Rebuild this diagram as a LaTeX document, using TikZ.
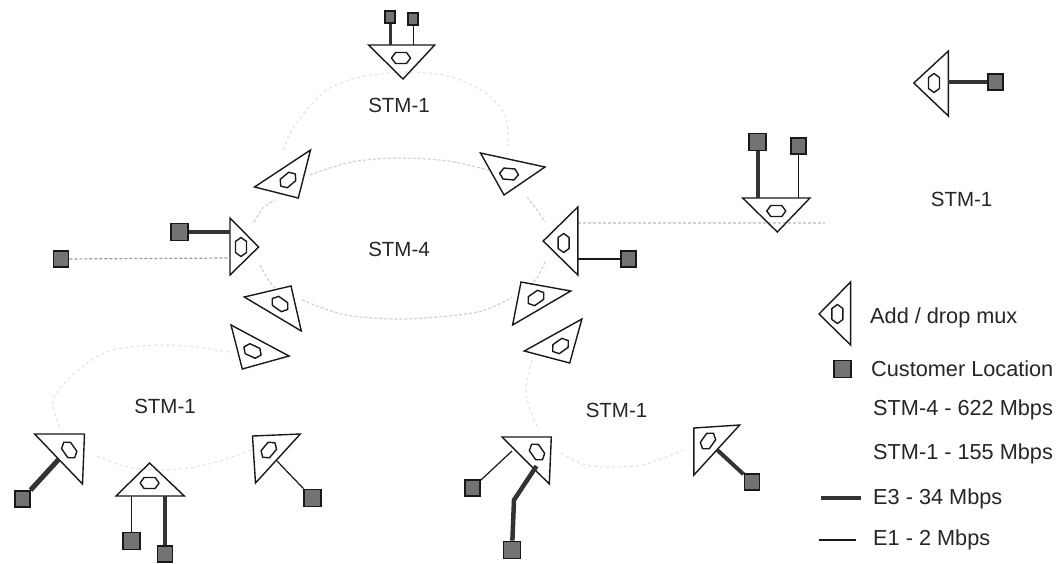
\documentclass[tikz,border=0pt]{standalone}
\usepackage{fontspec}
\setmainfont{Liberation Sans}
\newcommand\admx[6]{%
  \coordinate (#1a) at #2; \coordinate (#1b) at #3; \coordinate (#1c) at #4;
  \draw[admline] (#1a) -- (#1b) -- (#1c) -- cycle;
  \begin{scope}[shift={#5},rotate=#6]
    \draw[hexline] (-9.5,0) -- (-5.5,-5.5) -- (5.5,-5.5) -- (9.5,0) -- (5.5,5.5) -- (-5.5,5.5) -- cycle;
  \end{scope}}
\tikzset{
  x=1pt,y=-1pt,
  admline/.style={draw=black!90,line width=1.4pt,line join=miter},
  hexline/.style={draw=black!90,line width=1.4pt,line join=round},
  cust/.style={draw=black!90,fill=black!55,line width=1.8pt,inner sep=0pt,minimum width=15pt,minimum height=16pt},
  custb/.style={cust,minimum width=17pt,minimum height=17pt},
  custs/.style={cust,minimum width=10pt,minimum height=12pt},
  eiii/.style={draw=black!80,line width=4pt},
  ei/.style={draw=black!90,line width=1.2pt},
  ringa/.style={draw=black!18,line width=1.2pt,dash pattern=on 3pt off 2pt},
  ringb/.style={draw=black!11,line width=1.1pt,dash pattern=on 3pt off 3pt},
  lbl/.style={font=\fontsize{20.5}{22}\selectfont,text=black!85,inner sep=0pt},
  leg/.style={lbl,font=\fontsize{21.7}{24}\selectfont,anchor=west},
}
\begin{document}
\begin{tikzpicture}
\useasboundingbox (0,0) rectangle (1064,563);
\fill[white] (0,0) rectangle (1064,563);
% rings
\draw[ringb] plot[smooth] coordinates {(283,150) (295,125) (324,92) (356,78) (403,72) (448,76) (484,92) (505,115) (508,145)};
\draw[ringa] plot[smooth] coordinates {(310,175) (351,162) (399,158) (448,161) (489,170)};
\draw[ringa] plot[smooth] coordinates {(254,222) (263,208) (275,200)};
\draw[ringa] plot[smooth] coordinates {(527,197) (535,207) (545,222)};
\draw[ringa] plot[smooth] coordinates {(260,265) (267,278) (275,288)};
\draw[ringa] plot[smooth] coordinates {(302,300) (346,315) (407,319) (478,312) (512,297)};
\draw[ringa] plot[smooth] coordinates {(545,262) (537,278) (530,285)};
\draw[ringb] plot[smooth] coordinates {(229,352) (173,345) (112,350) (76,372) (53,400) (61,430)};
\draw[ringb] plot[smooth] coordinates {(97,456) (127,467) (168,470) (209,464) (252,450)};
\draw[ringb] plot[smooth] coordinates {(532,360) (526,395) (539,430)};
\draw[ringb] plot[smooth] coordinates {(561,453) (590,466) (642,465) (683,450)};
\coordinate (spurA) at (578,223); \coordinate (spurB) at (825,223);
\draw[ringa] (spurA) -- (spurB);
% muxes
\admx{ta}{(368.5,45)}{(434.7,45)}{(403,79)}{(401,58)}{0}
\admx{tb}{(310.5,150)}{(254.5,187)}{(298.3,198)}{(288,180)}{40}
\admx{tc}{(480.5,153)}{(504,195)}{(545,167)}{(509,174)}{-5}
\admx{td}{(230,218)}{(230,275)}{(258.6,247)}{(241,247)}{90}
\admx{te}{(577.8,207)}{(577.8,275)}{(543.2,241)}{(563.6,243)}{90}
\admx{tf}{(742.7,198)}{(809.9,198)}{(777.3,232)}{(776.3,211)}{0}
\admx{tg}{(948.4,51)}{(948.4,116)}{(913.8,83)}{(934,83)}{90}
\admx{th}{(244.3,297)}{(291,286)}{(301.3,331)}{(280,304)}{-35}
\admx{ti}{(231,325)}{(289,356)}{(242.3,369)}{(252.5,351)}{-25}
\admx{tj}{(521,282)}{(570.7,291)}{(512.6,325)}{(536,298)}{35}
\admx{tk}{(581.9,319)}{(569.7,363)}{(524.3,351)}{(560.5,346)}{35}
\admx{tl}{(34.6,434)}{(84.5,434)}{(82.5,484)}{(69.2,450)}{-55}
\admx{tm}{(149.6,463)}{(116,496)}{(184.3,496)}{(149.6,483)}{0}
\admx{tn}{(252.5,436)}{(300.3,434)}{(255.5,483)}{(268.8,450)}{50}
\admx{to}{(502,437)}{(551.3,437)}{(549.3,484)}{(537,452)}{-55}
\admx{tp}{(693.9,428)}{(739.7,425)}{(693.9,475)}{(708,441)}{55}
\admx{lg}{(850.6,282)}{(850.6,345)}{(819,314)}{(837.4,314)}{90}
% customers
\node[custs] (sa) at (390,17) {};
\node[custs] (sb) at (413.3,19) {};
\node[custb] (sc) at (179.2,232) {};
\node[cust] (sd) at (61,259) {};
\node[cust] (se) at (628.7,259) {};
\node[custb] (sf) at (757.8,142) {};
\node[cust] (sg) at (798.7,146) {};
\node[cust] (sh) at (995.2,82) {};
\node[cust] (si) at (22.4,499) {};
\node[custb] (sj) at (131.3,541) {};
\node[cust] (sk) at (165,554) {};
\node[custb] (sl) at (312.5,498) {};
\node[cust] (sm) at (472.4,488) {};
\node[custb] (sn) at (512,550) {};
\node[cust] (so) at (751.9,482) {};
\node[custb] (sq) at (842.5,369) {};
% attach points
\coordinate (pa) at (390,45); \coordinate (pb) at (413.3,45);
\coordinate (pc) at (230,232); \coordinate (pd) at (230,258);
\coordinate (pe) at (578,259); \coordinate (pf) at (757.8,198);
\coordinate (pg) at (798.7,198); \coordinate (ph) at (948.4,82);
\coordinate (pi) at (59,459); \coordinate (pj) at (131.3,496);
\coordinate (pk) at (165,496); \coordinate (pl) at (277,461);
\coordinate (pm) at (512,451); \coordinate (pn) at (536.5,466);
\coordinate (pnb) at (514,500); \coordinate (po) at (717.3,450);
\coordinate (ra) at (821,498); \coordinate (rb) at (860.8,498);
\coordinate (rc) at (819,540); \coordinate (rd) at (855.7,540);
% links
\draw[eiii,line width=3pt] (sa) -- (pa);
\draw[ei] (sb) -- (pb);
\draw[eiii] (sc) -- (pc);
\draw[ringa,draw=black!40] (sd) -- (pd);
\draw[ei] (se) -- (pe);
\draw[eiii] (sf) -- (pf);
\draw[ei] (sg) -- (pg);
\draw[eiii] (sh) -- (ph);
\draw[eiii,line width=5pt] (si) -- (pi);
\draw[ei] (sj) -- (pj);
\draw[eiii] (sk) -- (pk);
\draw[ei] (sl) -- (pl);
\draw[ei] (sm) -- (pm);
\draw[eiii,line width=4.5pt,line join=round] (sn) -- (pnb) -- (pn);
\draw[eiii] (so) -- (po);
\draw[eiii] (ra) -- (rb);
\draw[ei] (rc) -- (rd);
% labels
\node[lbl] (na) at (399,105) {STM-1};
\node[lbl] (nb) at (399,249) {STM-4};
\node[lbl] (nc) at (961.6,199) {STM-1};
\node[lbl] (nd) at (165,406) {STM-1};
\node[lbl] (ne) at (616.5,410) {STM-1};
\node[leg] (la) at (870,318) {Add / drop mux};
\node[leg] (lb) at (871,369) {Customer Location};
\node[leg] (lc) at (873,410) {STM-4 - 622 Mbps};
\node[leg] (ld) at (873,454) {STM-1 - 155 Mbps};
\node[leg] (le) at (873,499) {E3 - 34 Mbps};
\node[leg] (lf) at (873,540) {E1 - 2 Mbps};
\end{tikzpicture}
\end{document}
